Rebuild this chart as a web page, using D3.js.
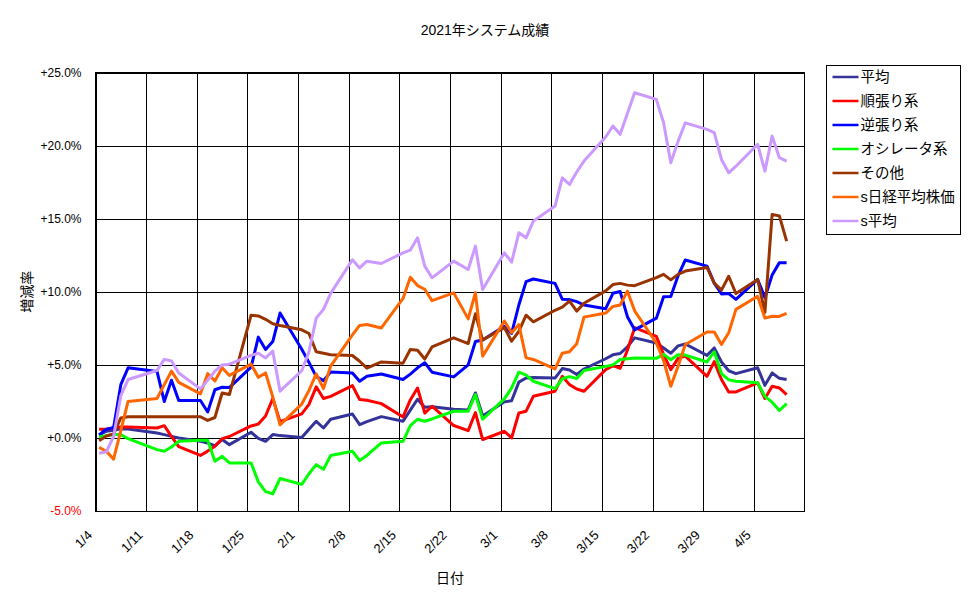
<!DOCTYPE html>
<html>
<head>
<meta charset="utf-8">
<script src="https://cdn.jsdelivr.net/npm/d3@7"></script>
<style>
  body { margin: 0; background: #fff; }
  text { font-family: "Liberation Sans", "Noto Sans CJK JP", sans-serif; fill: #000; }
</style>
</head>
<body>
<div id="chart"></div>
<script>
///////////////////////////////////////////////////////////////////////////
//////////////////////////////// The data /////////////////////////////////
///////////////////////////////////////////////////////////////////////////

//Trading days (2021)
var dates = [
	"1/4","1/5","1/6","1/7","1/8","1/12","1/13","1/14","1/15","1/18","1/19","1/20","1/21","1/22","1/25","1/26","1/27","1/28","1/29",
	"2/1","2/2","2/3","2/4","2/5","2/8","2/9","2/10","2/12","2/15","2/16","2/17","2/18","2/19","2/22","2/24","2/25","2/26",
	"3/1","3/2","3/3","3/4","3/5","3/8","3/9","3/10","3/11","3/12","3/15","3/16","3/17","3/18","3/19","3/22","3/23","3/24","3/25","3/26","3/29","3/30","3/31",
	"4/1","4/2","4/5","4/6","4/7","4/8","4/9"
];

//Series values, % change
var heikin = [
	0.2, 0.46, 0.52, 0.62, 0.62, 0.34, 0.23, 0.11, 0.0, -0.23, -0.34, -0.55, -0.11, -0.46, 0.39, -0.03, -0.23, 0.23, 0.16,
	0.03, 0.6, 1.14, 0.68, 1.28, 1.64, 0.91, 1.12, 1.46, 1.14, 1.9, 2.65, 2.1, 2.13, 1.97, 1.92, 3.08, 1.5,
	2.47, 2.55, 3.82, 4.1, 4.14, 4.1, 4.75, 4.65, 4.34, 4.72, 5.42, 5.69, 5.78, 6.24, 6.85, 6.5, 6.15, 5.8, 6.3, 6.43, 5.65, 6.16, 5.2,
	4.6, 4.4, 4.8, 3.6, 4.45, 4.08, 4.0
];
var junbari = [
	0.6, 0.6, 0.7, 0.75, 0.75, 0.68, 0.84, 0.1, -0.6, -1.2, -0.9, -0.57, -0.05, 0.1, 0.82, 0.95, 1.5, 2.7, 1.12,
	1.65, 2.3, 3.5, 2.7, 2.85, 3.58, 2.63, 2.58, 2.35, 1.44, 2.6, 3.42, 1.7, 2.17, 0.85, 0.5, 1.74, -0.11,
	0.46, 0.0, 1.71, 1.83, 2.85, 3.2, 4.22, 3.65, 3.35, 3.2, 4.68, 4.95, 4.77, 6.0, 7.55, 6.95, 5.7, 4.68, 5.45, 5.6, 4.22, 5.22, 4.0,
	3.15, 3.15, 3.77, 2.7, 3.54, 3.42, 2.97
];
var gyakubari = [
	0.2, 0.6, 0.7, 3.65, 4.8, 4.55, 2.5, 3.95, 2.56, 2.56, 1.78, 3.3, 3.47, 3.45, 4.85, 6.9, 6.05, 6.6, 8.55,
	6.07, 5.17, 4.2, 3.92, 4.52, 4.45, 3.88, 4.22, 4.38, 4.0, 4.37, 4.8, 5.15, 4.5, 4.18, 5.0, 6.6, 6.7,
	7.65, 7.15, 9.1, 10.7, 10.88, 10.58, 9.5, 9.47, 9.33, 9.1, 8.85, 9.9, 10.02, 8.3, 7.4, 8.2, 9.66, 9.68, 11.1, 12.18, 11.76, 10.6, 9.85,
	9.88, 9.48, 10.85, 9.6, 11.15, 12.0, 12.0
];
var oscillator = [
	0.07, 0.16, 0.23, 0.23, -0.05, -0.8, -0.91, -0.62, -0.23, -0.15, -0.15, -1.6, -1.26, -1.71, -1.71, -3.0, -3.67, -3.82, -2.78,
	-3.18, -2.45, -1.83, -2.15, -1.2, -0.91, -1.55, -1.2, -0.34, -0.23, 0.84, 1.28, 1.14, 1.3, 1.83, 1.83, 2.97, 1.28,
	2.67, 3.42, 4.5, 4.3, 3.88, 3.38, 4.05, 4.2, 4.07, 4.62, 4.9, 5.0, 5.37, 5.42, 5.48, 5.45, 5.72, 5.35, 5.7, 5.67, 5.2, 5.9, 4.4,
	3.98, 3.88, 3.77, 2.85, 2.45, 1.88, 2.35
];
var sonota = [
	-0.2, 0.13, 0.27, 1.37, 1.45, 1.45, 1.45, 1.45, 1.45, 1.45, 1.2, 1.4, 3.08, 2.97, 8.4, 8.35, 8.12, 7.82, 7.7,
	7.4, 7.15, 5.9, 5.8, 5.7, 5.64, 5.25, 4.78, 5.2, 5.12, 6.05, 6.0, 5.4, 6.23, 6.85, 6.46, 8.5, 6.7,
	7.55, 6.62, 7.3, 8.4, 7.95, 8.74, 8.95, 9.36, 8.68, 9.22, 10.07, 10.5, 10.58, 10.46, 10.42, 10.98, 11.2, 10.82, 11.2, 11.42, 11.67, 10.6, 10.12,
	11.07, 9.88, 10.85, 8.6, 15.3, 15.2, 13.47
];
var nikkei = [
	-0.65, -0.91, -1.45, 0.5, 2.5, 2.7, 3.65, 4.57, 3.8, 3.02, 4.4, 3.9, 4.8, 4.28, 5.05, 4.15, 4.45, 2.8, 0.9,
	2.32, 3.25, 4.38, 3.38, 4.92, 7.05, 7.7, 7.76, 7.53, 9.55, 11.0, 10.43, 10.18, 9.4, 9.93, 8.15, 9.95, 5.6,
	8.0, 7.2, 7.76, 5.48, 5.37, 4.73, 5.8, 5.9, 6.45, 8.27, 8.55, 9.0, 9.1, 10.05, 8.7, 6.5, 5.3, 3.54, 4.9, 6.4, 7.25, 7.25, 6.4,
	7.2, 8.8, 9.7, 8.2, 8.33, 8.32, 8.53
];
var sHeikin = [
	-1.05, -0.95, 0.1, 2.9, 4.0, 4.62, 5.38, 5.27, 4.45, 3.36, 3.95, 4.57, 5.0, 5.05, 5.65, 5.8, 5.48, 5.94, 3.2,
	4.6, 5.9, 8.2, 8.8, 9.9, 12.2, 11.64, 12.1, 11.94, 12.67, 12.85, 13.7, 11.76, 10.96, 12.1, 11.53, 13.13, 10.16,
	12.67, 12.03, 14.04, 13.7, 14.84, 15.87, 17.8, 17.35, 18.2, 18.95, 20.6, 21.35, 20.78, 22.2, 23.63, 23.17, 21.57, 18.84, 20.3, 21.57, 21.12, 20.9, 19.06,
	18.15, 18.6, 20.1, 18.26, 20.66, 19.18, 18.95
];

var seriesNames = ["平均", "順張り系", "逆張り系", "オシレータ系", "その他", "s日経平均株価", "s平均"];
var seriesValues = [heikin, junbari, gyakubari, oscillator, sonota, nikkei, sHeikin];

//Axis ticks
var xTickLabels = ["1/4","1/11","1/18","1/25","2/1","2/8","2/15","2/22","3/1","3/8","3/15","3/22","3/29","4/5"];
var yTickValues = [-5, 0, 5, 10, 15, 20, 25];

///////////////////////////////////////////////////////////////////////////
//////////////////////////// Set up the SVG ///////////////////////////////
///////////////////////////////////////////////////////////////////////////

var colors = ["#333399", "#FF0000", "#0000FF", "#00FF00", "#993300", "#FF6600", "#CC99FF"];

var plot = { left: 95.5, right: 804.7, top: 72.7, bottom: 511 };

var svg = d3.select("#chart")
	.append("svg")
	.attr("width", 970)
	.attr("height", 604);

function toDate(s, hour) {
	var p = s.split("/");
	return new Date(Date.UTC(2021, +p[0] - 1, +p[1], hour || 0));
}

///////////////////////////////////////////////////////////////////////////
////////////////////////// Create the scales //////////////////////////////
///////////////////////////////////////////////////////////////////////////

var xScale = d3.scaleUtc()
	.domain([toDate("1/4"), toDate("4/12")])
	.range([plot.left, plot.right]);

var yScale = d3.scaleLinear()
	.domain([-5, 25])
	.range([plot.bottom, plot.top]);

///////////////////////////////////////////////////////////////////////////
///////////////////////////// Axes & grid /////////////////////////////////
///////////////////////////////////////////////////////////////////////////

var yAxis = svg.append("g")
	.attr("class", "y-axis")
	.attr("transform", "translate(" + plot.left + ",0)")
	.call(d3.axisLeft(yScale)
		.tickValues(yTickValues)
		.tickSize(-(plot.right - plot.left))
		.tickPadding(14)
		.tickFormat(function(d) {
			return (d < 0 ? "-" : "+") + Math.abs(d).toFixed(1) + "%";
		}));

yAxis.select(".domain").remove();
yAxis.selectAll("line").attr("stroke", "#000").attr("shape-rendering", "crispEdges");
yAxis.selectAll("text")
	.style("font-size", "12px")
	.style("fill", function(d) { return d < 0 ? "#FF0000" : "#000"; });

var xAxis = svg.append("g")
	.attr("class", "x-axis")
	.attr("transform", "translate(0," + plot.bottom + ")")
	.call(d3.axisBottom(xScale)
		.tickValues(xTickLabels.map(function(s) { return toDate(s); }))
		.tickSize(-(plot.bottom - plot.top))
		.tickFormat(function(d) { return (d.getUTCMonth() + 1) + "/" + d.getUTCDate(); }));

xAxis.select(".domain").remove();
xAxis.selectAll("line").attr("stroke", "#000").attr("shape-rendering", "crispEdges");
xAxis.selectAll("text")
	.style("font-size", "13px")
	.attr("text-anchor", "end")
	.attr("dy", null)
	.attr("x", -3)
	.attr("y", 25)
	.attr("transform", "rotate(-45 -3 25)");

//Plot border
svg.append("rect")
	.attr("x", plot.left)
	.attr("y", plot.top)
	.attr("width", plot.right - plot.left)
	.attr("height", plot.bottom - plot.top)
	.attr("fill", "none")
	.attr("stroke", "#000")
	.attr("shape-rendering", "crispEdges");

///////////////////////////////////////////////////////////////////////////
//////////////////////////// Draw the lines ///////////////////////////////
///////////////////////////////////////////////////////////////////////////

var line = d3.line()
	.x(function(d, i) { return xScale(toDate(dates[i], 12)); })
	.y(function(d) { return yScale(d); });

svg.append("g").attr("class", "series-wrapper")
	.selectAll(".series")
	.data(seriesValues)
	.enter().append("path")
	.attr("class", "series")
	.attr("d", line)
	.attr("fill", "none")
	.attr("stroke", function(d, i) { return colors[i]; })
	.attr("stroke-width", 3)
	.attr("stroke-linejoin", "round");

///////////////////////////////////////////////////////////////////////////
//////////////////////////////// Titles ///////////////////////////////////
///////////////////////////////////////////////////////////////////////////

svg.append("text")
	.attr("x", 485)
	.attr("y", 35)
	.attr("text-anchor", "middle")
	.style("font-size", "14px")
	.text("2021年システム成績");

svg.append("text")
	.attr("x", 450)
	.attr("y", 583)
	.attr("text-anchor", "middle")
	.style("font-size", "14px")
	.text("日付");

svg.append("text")
	.attr("transform", "translate(32," + ((plot.top + plot.bottom) / 2) + ") rotate(-90)")
	.attr("text-anchor", "middle")
	.style("font-size", "14px")
	.text("増減率");

///////////////////////////////////////////////////////////////////////////
//////////////////////////////// Legend ///////////////////////////////////
///////////////////////////////////////////////////////////////////////////

var legend = svg.append("g")
	.attr("class", "legend")
	.attr("transform", "translate(826.5,65)");

legend.append("rect")
	.attr("width", 134)
	.attr("height", 169)
	.attr("fill", "#fff")
	.attr("stroke", "#000")
	.attr("shape-rendering", "crispEdges");

var legendItem = legend.selectAll(".legend-item")
	.data(seriesNames)
	.enter().append("g")
	.attr("class", "legend-item")
	.attr("transform", function(d, i) { return "translate(0," + (12 + i * 24) + ")"; });

legendItem.append("line")
	.attr("x1", 6)
	.attr("x2", 32)
	.attr("stroke", function(d, i) { return colors[i]; })
	.attr("stroke-width", 2.5);

legendItem.append("text")
	.attr("x", 34)
	.attr("dy", "0.35em")
	.style("font-size", "14.5px")
	.text(function(d) { return d; });
</script>
</body>
</html>
